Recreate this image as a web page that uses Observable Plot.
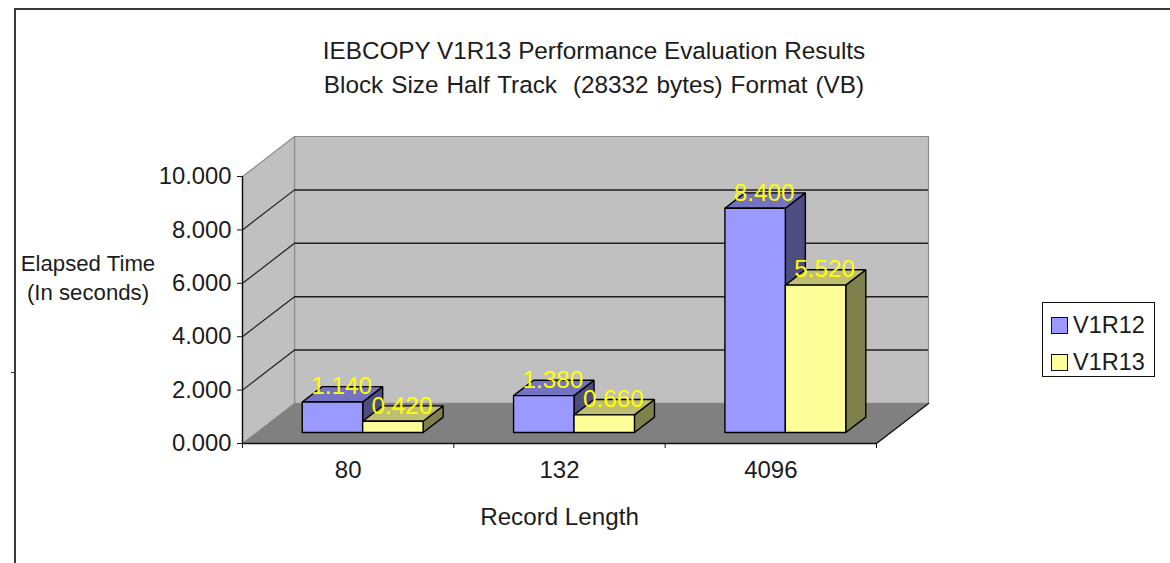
<!DOCTYPE html>
<html>
<head>
<meta charset="utf-8">
<script src="https://cdn.jsdelivr.net/npm/d3@7"></script>
<script src="https://cdn.jsdelivr.net/npm/@observablehq/plot@0.6"></script>
<style>
  html, body { margin: 0; padding: 0; background: #fff; overflow: hidden; }
  body { width: 1170px; height: 563px; position: relative; font-family: "Liberation Sans", Arial, sans-serif; color: #1c1c1c; }
  #plot { position: absolute; left: 0; top: 0; }
  #frame { position: absolute; left: 14px; top: 8px; width: 1154px; height: 560px; border-top: 2px solid #3a3a3a; border-left: 2px solid #3a3a3a; border-right: 1px solid #cfcfcf; box-sizing: content-box; }
  #nick { position: absolute; left: 11px; top: 372px; width: 4px; height: 1px; background: #333; }
  #title { position: absolute; left: 244px; width: 700px; top: 34px; text-align: center; font-size: 24.3px; line-height: 34px; white-space: pre; }
  #title div:nth-child(2) { word-spacing: 1.2px; }
  #ytitle { position: absolute; left: 8px; width: 160px; top: 249px; text-align: center; font-size: 22.2px; line-height: 29px; }
  #legend { position: absolute; left: 1042px; top: 302px; width: 111px; height: 73px; border: 1.5px solid #111; background: #fff; font-size: 23.5px; }
  .row { position: absolute; left: 8px; display: flex; align-items: center; height: 24px; }
  .sw { width: 15px; height: 15px; border: 1px solid #111; margin-right: 5px; }
</style>
</head>
<body>
<div id="plot"></div>
<div id="frame"></div>
<div id="nick"></div>
<div id="title"></div>
<div id="ytitle">Elapsed Time<br>(In seconds)</div>
<div id="legend"></div>
<script>
const titleLines = ["IEBCOPY V1R13 Performance Evaluation Results", "Block Size Half Track  (28332 bytes) Format (VB)"];
const categories = ["80", "132", "4096"];
const seriesNames = ["V1R12", "V1R13"];
const v1r12 = [1.14, 1.38, 8.4];
const v1r13 = [0.42, 0.66, 5.52];
const yTicks = [0, 2, 4, 6, 8, 10];

// Surface colours: front, top, side of each series
const seriesColors = [
  {front: "#9999ff", top: "#7373bf", side: "#4d4d80"},
  {front: "#ffff99", top: "#bfbf73", side: "#80804d"}
];

// Oblique projection of the depth axis into data units
const DX = 52 / 211.3, DY = 1.5;
const px = (x, z) => x + z * DX;
const py = (y, z) => y + z * DY;
const barStart = 0.215, barWidth = 0.286, zFront = 0.275, zBack = 0.66, zLabel = 0.45;

const polys = [];
function poly(fill, stroke, corners) {
  const id = polys.length ? polys[polys.length - 1].id + 1 : 0;
  for (const [x, y, z] of [...corners, corners[0]]) polys.push({id, fill, stroke, x: px(x, z), y: py(y, z)});
}

const N = categories.length, TOP = yTicks[yTicks.length - 1];
// back wall, side wall, floor
poly("#c0c0c0", "#8c8c8c", [[0, 0, 1], [N, 0, 1], [N, TOP, 1], [0, TOP, 1]]);
poly("#c0c0c0", "#8c8c8c", [[0, 0, 0], [0, 0, 1], [0, TOP, 1], [0, TOP, 0]]);
const gridRows = yTicks.slice(1, -1);
const gridBack = gridRows.map(v => ({x1: px(0, 1), x2: px(N, 1), y: py(v, 1)}));
const gridSide = gridRows.flatMap(v => [{id: v, x: px(0, 0), y: py(v, 0)}, {id: v, x: px(0, 1), y: py(v, 1)}]);

const floor = [];
floor.push({id: "f", x: px(0, 0), y: py(0, 0)}, {id: "f", x: px(0, 1), y: py(0, 1)}, {id: "f", x: px(N, 1), y: py(0, 1)}, {id: "f", x: px(N, 0), y: py(0, 0)}, {id: "f", x: px(0, 0), y: py(0, 0)});
const floorEdge = [{x: px(0, 0), y: py(0, 0)}, {x: px(N, 0), y: py(0, 0)}, {x: px(N, 1), y: py(0, 1)}];

const barPolys = polys.length;
const labels = [];
categories.forEach((c, i) => {
  [v1r12, v1r13].forEach((vals, s) => {
    const v = vals[i], x0 = i + barStart + s * barWidth, x1 = x0 + barWidth, col = seriesColors[s];
    poly(col.side, "#000", [[x1, 0, zFront], [x1, 0, zBack], [x1, v, zBack], [x1, v, zFront]]);
    poly(col.top, "#000", [[x0, v, zFront], [x1, v, zFront], [x1, v, zBack], [x0, v, zBack]]);
    poly(col.front, "#000", [[x0, 0, zFront], [x1, 0, zFront], [x1, v, zFront], [x0, v, zFront]]);
    labels.push({x: px(x0 + barWidth / 2, zLabel), y: py(v, zBack), text: d3.format(".3f")(v)});
  });
});

const chart = Plot.plot({
  width: 1170, height: 563,
  marginLeft: 242, marginRight: 242, marginTop: 136, marginBottom: 120,
  x: {domain: [0, px(N, 1)], axis: null},
  y: {domain: [0, py(TOP, 1)], axis: null},
  color: {type: "identity"},
  style: {fontFamily: "'Liberation Sans', Arial, sans-serif", background: "transparent", overflow: "visible"},
  marks: [
    Plot.line(polys.slice(0, barPolys), {x: "x", y: "y", z: "id", fill: "fill", stroke: "stroke", strokeWidth: 1.2}),
    Plot.ruleY(gridBack, {x1: "x1", x2: "x2", y: "y", stroke: "#1f1f1f", strokeWidth: 1.5}),
    Plot.line(gridSide, {x: "x", y: "y", z: "id", stroke: "#1f1f1f", strokeWidth: 1.2}),
    Plot.line(floor, {x: "x", y: "y", z: "id", fill: "#808080", stroke: "none"}),
    Plot.line(floorEdge, {x: "x", y: "y", stroke: "#111", strokeWidth: 1.4}),
    Plot.ruleX([0], {y1: 0, y2: TOP, stroke: "#111", strokeWidth: 1.4}),
    Plot.axisY({ticks: yTicks, tickFormat: d3.format(".3f"), tickSize: 5, tickPadding: 6, fontSize: 23.8, label: null, stroke: "#111", fill: "#1c1c1c"}),
    Plot.axisX({ticks: d3.range(N + 1), tickFormat: () => "", tickSize: 5, label: null, stroke: "#111"}),
    Plot.text(categories, {x: (d, i) => i + 0.5, y: () => 0, dy: 27, text: d => d, fontSize: 24, fill: "#1c1c1c"}),
    Plot.text(["Record Length"], {x: () => N / 2, y: () => 0, dy: 74, text: d => d, fontSize: 24.2, fill: "#1c1c1c"}),
    Plot.line(polys.slice(barPolys), {x: "x", y: "y", z: "id", fill: "fill", stroke: "stroke", strokeWidth: 1.4, strokeLinejoin: "miter"}),
    Plot.text(labels, {x: "x", y: "y", text: "text", fontSize: 24.3, fill: "#ffff00"})
  ]
});
document.getElementById("plot").append(chart);

const titleBox = document.getElementById("title");
titleLines.forEach(t => {
  const line = document.createElement("div");
  line.textContent = t;
  titleBox.append(line);
});
const legend = document.getElementById("legend");
seriesNames.forEach((name, i) => {
  const row = document.createElement("div");
  row.className = "row";
  row.style.top = (10 + i * 37.5) + "px";
  const sw = document.createElement("span");
  sw.className = "sw";
  sw.style.background = seriesColors[i].front;
  row.append(sw, name);
  legend.append(row);
});
</script>
</body>
</html>
